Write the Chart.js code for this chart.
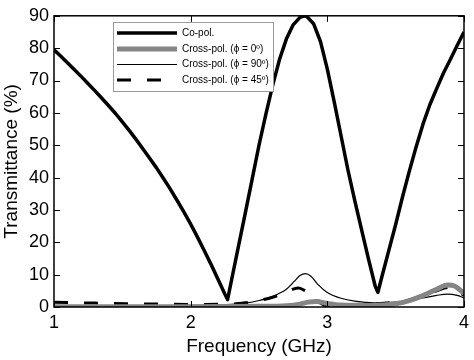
<!DOCTYPE html>
<html><head><meta charset="utf-8">
<script src="https://cdn.jsdelivr.net/npm/chart.js@4.4.1/dist/chart.umd.min.js"></script>
<style>html,body{margin:0;padding:0;background:#fff}canvas{display:block}</style>
</head><body>
<canvas id="c" width="474" height="360"></canvas>
<script>
// ---- data ----
const coFreq = [1.00,1.05,1.10,1.15,1.20,1.25,1.30,1.35,1.40,1.45,1.50,1.55,1.60,1.65,1.70,1.75,1.80,1.85,1.90,1.95,2.00,2.05,2.10,2.15,2.20,2.25,2.27,
                2.30,2.35,2.40,2.45,2.50,2.55,2.60,2.65,2.70,2.75,2.80,2.83,2.85,2.90,2.95,3.00,3.05,3.10,3.15,3.20,3.25,3.30,3.35,3.37,
                3.40,3.45,3.50,3.55,3.60,3.65,3.70,3.75,3.80,3.85,3.90,3.95,4.00];
const coVal  = [79.5,77.5,75.4,73.3,71.2,69.0,66.8,64.5,62.2,59.8,57.2,54.6,51.8,48.9,46.0,43.0,39.8,36.5,33.0,29.4,25.6,21.6,17.4,13.1,8.6,4.0,2.3,
                8.5,18.8,29.1,39.5,50.0,59.5,68.5,76.5,82.8,87.2,89.5,90.0,89.8,87.5,82.0,73.5,63.5,53.0,42.5,33.0,24.0,15.0,6.5,4.5,
                9.5,17.5,25.5,34.0,42.0,49.5,56.5,62.5,67.5,72.3,76.5,80.8,85.0];

const x0Freq = [1.0,1.5,2.0,2.5,2.7,2.8,2.86,2.92,3.0,3.1,3.3,3.5,3.6,3.7,3.8,3.88,3.93,4.0];
const x0Val  = [0.1,0.1,0.1,0.2,0.4,0.9,1.5,1.7,1.1,0.6,0.5,1.0,2.0,3.5,5.5,6.8,6.5,4.2];

const x90Freq = [1.0,1.5,2.0,2.3,2.4,2.5,2.6,2.7,2.76,2.80,2.84,2.88,2.93,3.0,3.1,3.2,3.35,3.5,3.6,3.7,3.8,3.88,3.95,4.0];
const x90Val  = [0.3,0.3,0.5,0.8,1.2,2.0,3.3,5.5,8.0,9.7,10.3,9.5,7.0,4.5,2.7,1.8,1.3,1.5,2.0,2.8,3.6,4.0,3.6,2.8];

const x45Freq = [1.0,1.3,1.6,2.0,2.3,2.4,2.5,2.6,2.7,2.75,2.79,2.83,2.87,2.91,2.95,3.0,3.1,3.2,3.35,3.5,3.6,3.7,3.8,3.88,3.95,4.0];
const x45Val  = [1.5,1.2,1.0,0.8,0.9,1.3,2.0,3.0,4.5,5.5,5.9,5.2,4.2,3.0,1.2,0.3,0.5,0.8,1.0,1.5,2.2,3.5,5.0,6.0,5.2,3.5];

const xTicks = [1,2,3,4];
const yTicks = [0,10,20,30,40,50,60,70,80,90];
const seriesNames = ['Co-pol.','Cross-pol. (\u03d5 = 0\u00ba)','Cross-pol. (\u03d5 = 90\u00ba)','Cross-pol. (\u03d5 = 45\u00ba)'];

const pts = (xs, ys) => xs.map((x, i) => ({x: x, y: ys[i]}));
const FONT = '"Liberation Sans", Arial, Helvetica, sans-serif';

const frameTicks = {
  id: 'frameTicks',
  afterDraw(chart) {
    const {ctx, chartArea: a, scales: {x, y}} = chart;
    ctx.save();
    ctx.strokeStyle = '#000';
    ctx.lineWidth = 1.5;
    ctx.strokeRect(a.left, a.top, a.right - a.left, a.bottom - a.top);
    ctx.lineWidth = 1;
    const L = 6;
    ctx.beginPath();
    yTicks.forEach(v => {
      const py = Math.round(y.getPixelForValue(v)) + 0.5;
      ctx.moveTo(a.left, py); ctx.lineTo(a.left + L, py);
      ctx.moveTo(a.right, py); ctx.lineTo(a.right - L, py);
    });
    xTicks.forEach(v => {
      const px = Math.round(x.getPixelForValue(v)) + 0.5;
      ctx.moveTo(px, a.bottom); ctx.lineTo(px, a.bottom - L);
      ctx.moveTo(px, a.top); ctx.lineTo(px, a.top + L);
    });
    ctx.stroke();

    // legend box
    const bx = 113, by = 22, bw = 160, bh = 69;
    ctx.fillStyle = '#fff';
    ctx.fillRect(bx, by, bw, bh);
    ctx.strokeStyle = '#999';
    ctx.lineWidth = 1;
    ctx.strokeRect(bx + 0.5, by + 0.5, bw, bh);
    const rows = [33, 49, 64.5, 80];
    ctx.font = '10px ' + FONT;
    ctx.textBaseline = 'middle';
    ctx.textAlign = 'left';
    chart.data.datasets.forEach((ds, i) => {
      const ry = rows[i];
      ctx.save();
      ctx.strokeStyle = ds.borderColor;
      ctx.lineWidth = ds.borderWidth;
      ctx.setLineDash(ds.borderDash || []);
      ctx.lineCap = 'butt';
      ctx.beginPath();
      ctx.moveTo(117, ry); ctx.lineTo(177, ry);
      ctx.stroke();
      ctx.restore();
      ctx.fillStyle = '#000';
      ctx.fillText(seriesNames[i], 182, ry);
    });
    ctx.restore();
  }
};

new Chart(document.getElementById('c'), {
  type: 'line',
  data: {
    datasets: [
      {label: seriesNames[0], data: pts(coFreq, coVal), borderColor: '#000', borderWidth: 3.5, tension: 0, borderJoinStyle: 'round'},
      {label: seriesNames[1], data: pts(x0Freq, x0Val), borderColor: '#858585', borderWidth: 5, cubicInterpolationMode: 'monotone'},
      {label: seriesNames[2], data: pts(x90Freq, x90Val), borderColor: '#000', borderWidth: 1.2, cubicInterpolationMode: 'monotone'},
      {label: seriesNames[3], data: pts(x45Freq, x45Val), borderColor: '#000', borderWidth: 3, borderDash: [14, 16], cubicInterpolationMode: 'monotone'}
    ]
  },
  options: {
    responsive: false,
    animation: false,
    devicePixelRatio: 1,
    layout: {padding: {left: 0, right: 6, top: 7, bottom: 0}},
    elements: {point: {radius: 0}},
    plugins: {legend: {display: false}, tooltip: {enabled: false}},
    scales: {
      x: {
        type: 'linear', min: 1, max: 4,
        afterFit(s) { s.height = 53; },
        afterBuildTicks(s) { s.ticks = xTicks.map(v => ({value: v})); },
        grid: {display: false, drawTicks: false},
        border: {display: false},
        ticks: {color: '#000', padding: 5, font: {family: FONT, size: 18}, maxRotation: 0},
        title: {display: true, text: 'Frequency (GHz)', color: '#000', font: {family: FONT, size: 19}, padding: {top: 0, bottom: 2}}
      },
      y: {
        min: 0, max: 90,
        afterFit(s) { s.width = 54; },
        afterBuildTicks(s) { s.ticks = yTicks.map(v => ({value: v})); },
        grid: {display: false, drawTicks: false},
        border: {display: false},
        ticks: {color: '#000', padding: 5, font: {family: FONT, size: 18}},
        title: {display: true, text: 'Transmittance (%)', color: '#000', font: {family: FONT, size: 19}, padding: {top: 0, bottom: 2}}
      }
    }
  },
  plugins: [frameTicks]
});
</script>
</body></html>
